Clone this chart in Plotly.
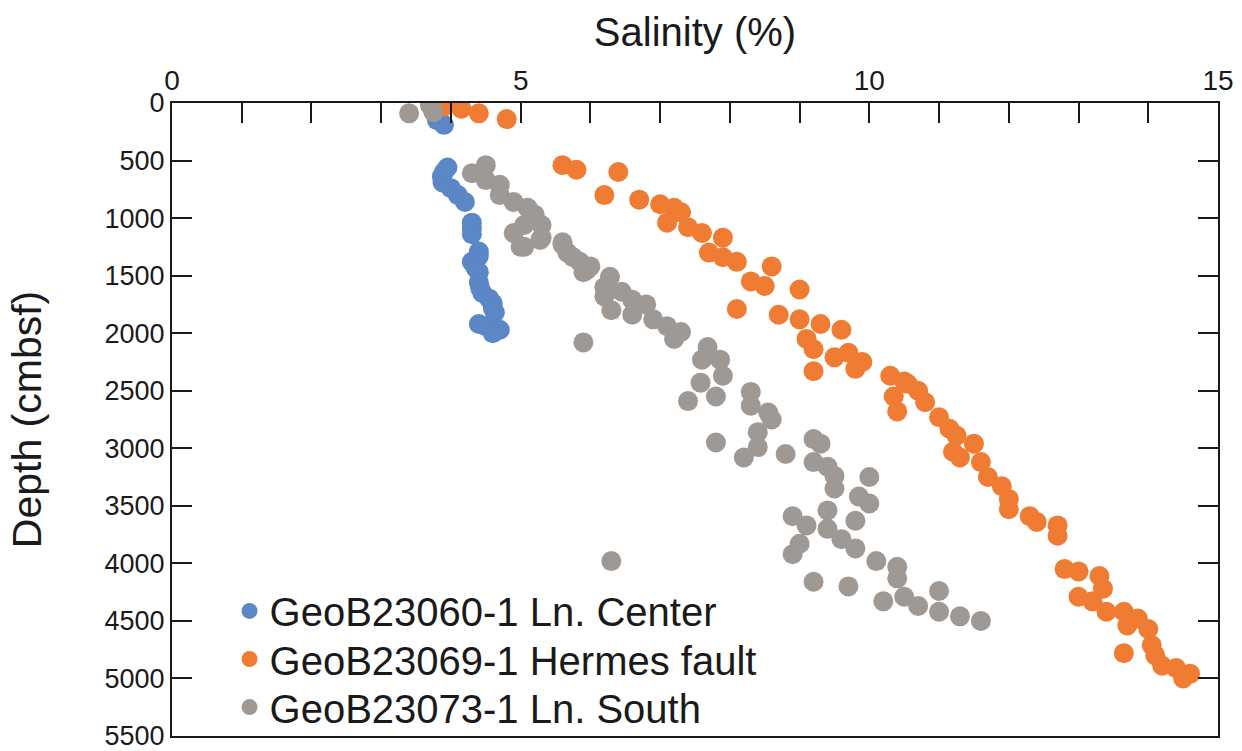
import plotly.graph_objects as go

# Salinity (%) vs depth (cmbsf) for three cores
center_depth = [150, 190, 560, 600, 640, 690, 740, 800, 860, 1040, 1090, 1140, 1290, 1330,
                1380, 1430, 1470, 1560, 1610, 1650, 1700, 1740, 1780, 1820, 1920, 1940, 1970, 2000]
center_sal = [3.8, 3.9, 3.95, 3.9, 3.87, 3.88, 4.0, 4.1, 4.2, 4.3, 4.3, 4.3, 4.4, 4.4,
              4.3, 4.35, 4.4, 4.4, 4.42, 4.45, 4.55, 4.6, 4.6, 4.63, 4.4, 4.5, 4.7, 4.6]

hermes_depth = [30, 50, 90, 140, 540, 580, 600, 800, 840, 880, 910, 950, 1040, 1080, 1130,
                1170, 1300, 1340, 1380, 1420, 1550, 1590, 1620, 1790, 1840, 1880, 1920, 1970,
                2050, 2140, 2170, 2210, 2250, 2310, 2330, 2370, 2420, 2440, 2500, 2550, 2600,
                2680, 2730, 2830, 2890, 2960, 3030, 3080, 3120, 3250, 3330, 3440, 3530, 3590,
                3640, 3670, 3760, 4050, 4070, 4110, 4220, 4290, 4330, 4420, 4420, 4480, 4540,
                4570, 4710, 4780, 4800, 4890, 4910, 4960, 5000]
hermes_sal = [3.9, 4.15, 4.4, 4.8, 5.6, 5.8, 6.4, 6.2, 6.7, 7.0, 7.2, 7.3, 7.1, 7.4, 7.6,
              7.9, 7.7, 7.9, 8.1, 8.6, 8.3, 8.5, 9.0, 8.1, 8.7, 9.0, 9.3, 9.6,
              9.1, 9.2, 9.7, 9.5, 9.9, 9.8, 9.2, 10.3, 10.5, 10.55, 10.7, 10.35, 10.8,
              10.4, 11.0, 11.15, 11.25, 11.5, 11.2, 11.3, 11.6, 11.7, 11.9, 12.0, 12.0, 12.3,
              12.4, 12.7, 12.7, 12.8, 13.0, 13.3, 13.35, 13.0, 13.2, 13.4, 13.65, 13.85, 13.7,
              14.0, 14.05, 13.65, 14.1, 14.2, 14.4, 14.6, 14.5]

south_depth = [20, 80, 90, 540, 610, 670, 710, 800, 860, 910, 970, 1060, 1060, 1130, 1170,
               1190, 1210, 1230, 1250, 1250, 1300, 1340, 1380, 1420, 1450, 1470, 1510, 1600,
               1640, 1680, 1710, 1750, 1800, 1840, 1880, 1940, 1990, 2050, 2080, 2120, 2230,
               2230, 2370, 2430, 2510, 2550, 2590, 2630, 2690, 2750, 2860, 2920, 2950, 2960,
               2990, 3050, 3080, 3120, 3160, 3240, 3250, 3350, 3420, 3480, 3540, 3590, 3630,
               3670, 3700, 3790, 3830, 3870, 3920, 3980, 3980, 4030, 4130, 4160, 4200, 4240,
               4290, 4330, 4370, 4420, 4460, 4500]
south_sal = [3.7, 3.75, 3.4, 4.5, 4.3, 4.5, 4.7, 4.7, 4.9, 5.1, 5.2, 5.3, 5.05, 4.9, 5.3,
             5.28, 5.6, 5.6, 5.0, 5.05, 5.67, 5.75, 5.85, 6.0, 5.95, 5.9, 6.28, 6.2,
             6.45, 6.2, 6.6, 6.8, 6.3, 6.6, 6.9, 7.1, 7.3, 7.2, 5.9, 7.68, 7.6,
             7.86, 7.9, 7.58, 8.3, 7.8, 7.4, 8.3, 8.55, 8.6, 8.4, 9.2, 7.8, 9.3,
             8.4, 8.8, 8.2, 9.2, 9.4, 9.5, 10.0, 9.5, 9.85, 10.0, 9.4, 8.9, 9.8,
             9.1, 9.4, 9.6, 9.0, 9.8, 8.9, 6.3, 10.1, 10.4, 10.4, 9.2, 9.7, 11.0,
             10.5, 10.2, 10.7, 11.0, 11.3, 11.6]

series = [
    ("GeoB23060-1 Ln. Center", center_sal, center_depth, "#5b87c6"),
    ("GeoB23069-1 Hermes fault", hermes_sal, hermes_depth, "#f07b33"),
    ("GeoB23073-1 Ln. South", south_sal, south_depth, "#9e9995"),
]

depth_ticks = list(range(0, 5501, 500))
sal_ticks = [0, 5, 10, 15]

FONT = "Liberation Sans, Arial, sans-serif"
INK = "#1a1a1a"

# one legend box per series so the rows sit close together
legend_ids = ["legend", "legend2", "legend3"]
legend_tops = [0.249, 0.173, 0.097]

fig = go.Figure()
for (name, sal, depth, color), lid in zip(series, legend_ids):
    fig.add_trace(go.Scatter(
        x=sal, y=depth, mode="markers", name=name, legend=lid,
        marker=dict(size=20, color=color, line=dict(width=0), opacity=1),
    ))

legend_style = dict(
    x=0.055, xanchor="left", yanchor="top",
    font=dict(size=40, family=FONT, color=INK),
    bgcolor="rgba(0,0,0,0)", itemsizing="trace",
)

fig.update_layout(
    width=1242, height=751,
    margin=dict(l=172, r=24, t=103, b=15, autoexpand=False),
    paper_bgcolor="white", plot_bgcolor="white",
    font=dict(family=FONT, color=INK),
    showlegend=True,
    legend=dict(y=legend_tops[0], **legend_style),
    legend2=dict(y=legend_tops[1], **legend_style),
    legend3=dict(y=legend_tops[2], **legend_style),
    xaxis=dict(
        side="top", range=[0, 15], tickvals=sal_ticks,
        ticktext=[str(v) for v in sal_ticks],
        ticks="inside", ticklen=20, tickwidth=2, tickcolor=INK,
        minor=dict(dtick=1, ticks="inside", ticklen=20, tickwidth=2, tickcolor=INK),
        showline=True, linewidth=2, linecolor=INK, mirror=True,
        showgrid=False, zeroline=False, automargin=False,
        ticklabeloverflow="allow",
        tickfont=dict(size=28, family=FONT, color=INK),
        title=dict(text="Salinity (%)", font=dict(size=40, family=FONT, color=INK),
                   standoff=6),
    ),
    yaxis=dict(
        range=[5500, 0], tickvals=depth_ticks,
        ticktext=[str(v) for v in depth_ticks],
        ticks="inside", ticklen=20, tickwidth=2, tickcolor=INK,
        showline=True, linewidth=2, linecolor=INK, mirror="ticks",
        showgrid=False, zeroline=False, automargin=False,
        ticklabeloverflow="allow",
        tickfont=dict(size=27, family=FONT, color=INK),
        title=dict(text="Depth (cmbsf)", font=dict(size=41, family=FONT, color=INK),
                   standoff=50),
    ),
)

fig.write_html("out.html")
